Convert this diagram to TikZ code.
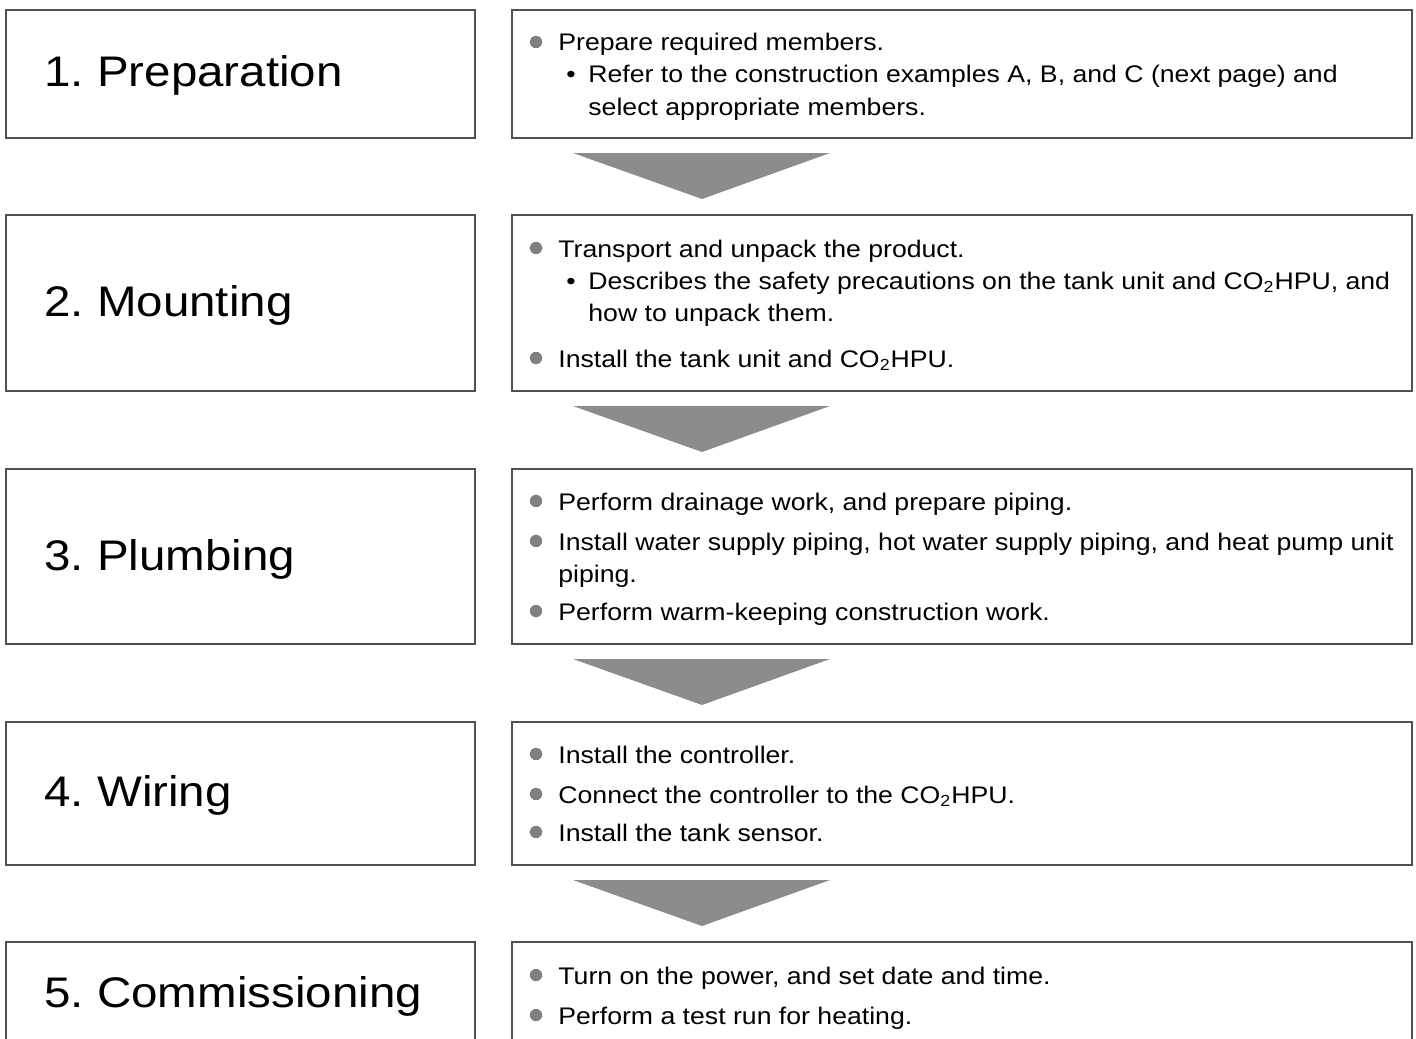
\documentclass[tikz,border=0pt]{standalone}
\usepackage{fontspec}
\setmainfont{Liberation Sans}[FakeStretch=1.11]
\frenchspacing
\definecolor{Boxcol}{HTML}{505050}
\definecolor{Arrowcol}{HTML}{8C8C8C}
\definecolor{Dotcol}{HTML}{808080}
\usetikzlibrary{calc}
\tikzset{
    stepbox/.style={draw=Boxcol, line width=1pt, inner sep=0pt, anchor=north west},
    steptitle/.style={anchor=base west, inner sep=0pt, font=\fontsize{21.4}{25}\selectfont},
    itemtext/.style={anchor=base west, inner sep=0pt, font=\fontsize{12}{14}\selectfont},
    bulletdot/.style={fill=Dotcol},
    downarrow/.style={fill=Arrowcol}
}
\newcommand{\COtwo}{CO\textsubscript{2}HPU}

\begin{document}
\begin{tikzpicture}[x=0.5pt, y=-0.5pt]
    \useasboundingbox (0,0) rectangle (1416,1038);
    \clip (0,0) rectangle (1416,1038);

    % Step boxes (left) and description boxes (right)
    \node[stepbox, minimum width=234.5pt, minimum height=64pt] (step1) at (5,9) {};
    \node[stepbox, minimum width=450pt, minimum height=64pt] (desc1) at (511,9) {};
    \node[stepbox, minimum width=234.5pt, minimum height=88pt] (step2) at (5,214) {};
    \node[stepbox, minimum width=450pt, minimum height=88pt] (desc2) at (511,214) {};
    \node[stepbox, minimum width=234.5pt, minimum height=87.5pt] (step3) at (5,468) {};
    \node[stepbox, minimum width=450pt, minimum height=87.5pt] (desc3) at (511,468) {};
    \node[stepbox, minimum width=234.5pt, minimum height=71.5pt] (step4) at (5,721) {};
    \node[stepbox, minimum width=450pt, minimum height=71.5pt] (desc4) at (511,721) {};
    \node[stepbox, minimum width=234.5pt, minimum height=54pt] (step5) at (5,941) {};
    \node[stepbox, minimum width=450pt, minimum height=54pt] (desc5) at (511,941) {};

    % Arrows between the steps
    \fill[downarrow] (573,153) -- (830,153) -- (702,199) -- cycle;
    \fill[downarrow] (573,406) -- (830,406) -- (702,452) -- cycle;
    \fill[downarrow] (573,659) -- (830,659) -- (702,705) -- cycle;
    \fill[downarrow] (573,880) -- (830,880) -- (702,926) -- cycle;

    % Step titles
    \node[steptitle] (title1) at (44,87) {1. Preparation};
    \node[steptitle] (title2) at (44,316) {2. Mounting};
    \node[steptitle] (title3) at (44,570) {3. Plumbing};
    \node[steptitle] (title4) at (44,806) {4. Wiring};
    \node[steptitle] (title5) at (44,1007) {5. Commissioning};

    % 1. Preparation
    \fill[bulletdot] (536,42) circle (3.1pt);
    \node[itemtext] (item1a) at (558,51) {Prepare required members.};
    \node[itemtext] (sub1a) at (566,83) {•};
    \node[itemtext] (item1b) at (588,83) {Refer to the construction examples A, B, and C (next page) and};
    \node[itemtext] (item1c) at (588,115) {select appropriate members.};

    % 2. Mounting
    \fill[bulletdot] (536,248) circle (3.1pt);
    \node[itemtext] (item2a) at (558,257) {Transport and unpack the product.};
    \node[itemtext] (sub2a) at (566,289) {•};
    \node[itemtext] (item2b) at (588,289) {Describes the safety precautions on the tank unit and \COtwo, and};
    \node[itemtext] (item2c) at (588,321) {how to unpack them.};
    \fill[bulletdot] (536,358) circle (3.1pt);
    \node[itemtext] (item2d) at (558,367) {Install the tank unit and \COtwo.};

    % 3. Plumbing
    \fill[bulletdot] (536,501) circle (3.1pt);
    \node[itemtext] (item3a) at (558,510) {Perform drainage work, and prepare piping.};
    \fill[bulletdot] (536,541) circle (3.1pt);
    \node[itemtext] (item3b) at (558,550) {Install water supply piping, hot water supply piping, and heat pump unit};
    \node[itemtext] (item3c) at (558,582) {piping.};
    \fill[bulletdot] (536,611) circle (3.1pt);
    \node[itemtext] (item3d) at (558,620) {Perform warm-keeping construction work.};

    % 4. Wiring
    \fill[bulletdot] (536,754) circle (3.1pt);
    \node[itemtext] (item4a) at (558,763) {Install the controller.};
    \fill[bulletdot] (536,794) circle (3.1pt);
    \node[itemtext] (item4b) at (558,803) {Connect the controller to the \COtwo.};
    \fill[bulletdot] (536,832) circle (3.1pt);
    \node[itemtext] (item4c) at (558,841) {Install the tank sensor.};

    % 5. Commissioning
    \fill[bulletdot] (536,975) circle (3.1pt);
    \node[itemtext] (item5a) at (558,984) {Turn on the power, and set date and time.};
    \fill[bulletdot] (536,1015) circle (3.1pt);
    \node[itemtext] (item5b) at (558,1024) {Perform a test run for heating.};
\end{tikzpicture}
\end{document}
